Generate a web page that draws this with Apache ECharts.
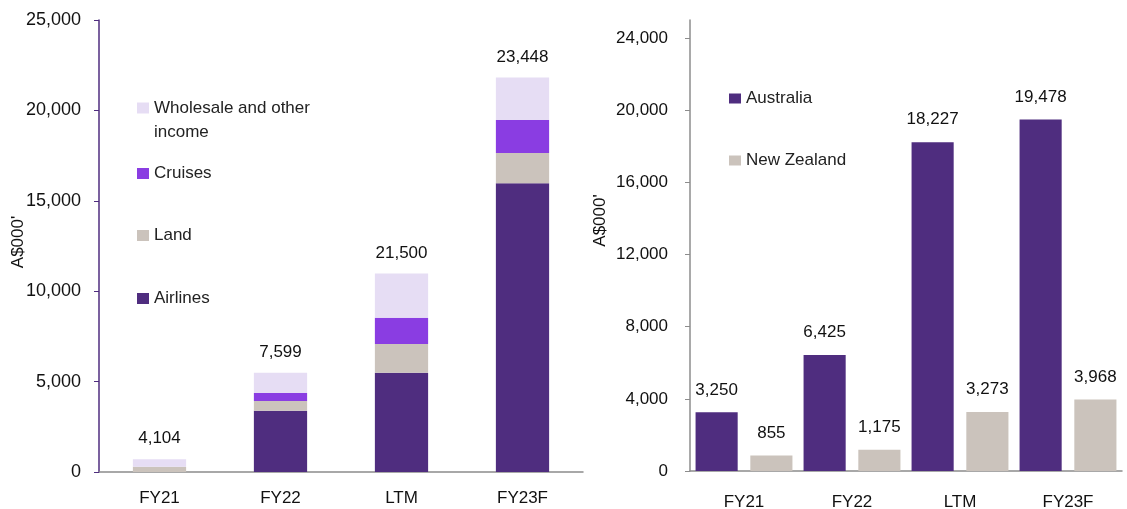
<!DOCTYPE html>
<html>
<head>
<meta charset="utf-8">
<script src="https://cdn.jsdelivr.net/npm/echarts@6/dist/echarts.min.js"></script>
<style>
  html, body { margin: 0; padding: 0; background: #fff; }
  #chart { width: 1127px; height: 509px; }
</style>
</head>
<body>
<div id="chart"></div>
<script>
// categories
var periods = ['FY21', 'FY22', 'LTM', 'FY23F'];

// left chart - revenue by segment (stacked)
var airlines = [0, 3390, 5490, 15970];
var land = [290, 535, 1585, 1680];
var cruises = [0, 440, 1455, 1825];
var wholesale = [420, 1125, 2455, 2340];
// totals printed above the stacks
var segTotals = [4104, 7599, 21500, 23448];

// right chart - by country
var australia = [3250, 6425, 18227, 19478];
var newZealand = [855, 1175, 3273, 3968];

// tick labels
var leftTicks = [0, 5000, 10000, 15000, 20000, 25000];
var rightTicks = [0, 4000, 8000, 12000, 16000, 20000, 24000];

var cAir = '#4f2d7f', cLand = '#cbc3bc', cCruise = '#8a3de2', cWhole = '#e6ddf4';
var fontFam = 'Liberation Sans, Arial, sans-serif';
var fmt = function (v) { return echarts.format.addCommas(v); };

var myChart = echarts.init(document.getElementById('chart'));

function legendItem(name, left, top, extra) {
    var l = {
        left: left, top: top, padding: 0, orient: 'vertical',
        icon: 'rect', itemWidth: 12, itemHeight: 11,
        selectedMode: false,
        textStyle: {fontSize: 17, color: '#222', fontFamily: fontFam, lineHeight: 11},
        data: [name]
    };
    if (extra) echarts.util.merge(l, extra, true);
    return l;
}

var option = {
    animation: false,
    textStyle: {fontFamily: fontFam},
    legend: [
        // blank first line keeps "Wholesale and other" level with the swatch
        legendItem('Wholesale and other income', 137, 72, {
            formatter: function () { return ' \nWholesale and other\nincome'; },
            textStyle: {lineHeight: 24}
        }),
        legendItem('Cruises', 137, 165),
        legendItem('Land', 137, 227),
        legendItem('Airlines', 137, 290),
        legendItem('Australia', 729, 90, {itemHeight: 10, textStyle: {lineHeight: 10}}),
        legendItem('New Zealand', 729, 152, {itemHeight: 10, textStyle: {lineHeight: 10}})
    ],
    grid: [
        {left: 99, right: 544, top: 20, bottom: 37, outerBoundsMode: 'none'},
        {left: 690, right: 5, top: 20, bottom: 38, outerBoundsMode: 'none'}
    ],
    xAxis: [
        {
            type: 'category', gridIndex: 0, data: periods,
            axisLine: {lineStyle: {color: '#8c8c8c', width: 1.5}},
            axisTick: {length: 5, lineStyle: {color: '#8c8c8c'}},
            axisLabel: {fontSize: 17, color: '#111', margin: 18}
        },
        {
            type: 'category', gridIndex: 1, data: periods,
            axisLine: {lineStyle: {color: '#8c8c8c', width: 1.5}},
            axisTick: {length: 5, lineStyle: {color: '#8c8c8c'}},
            axisLabel: {fontSize: 17, color: '#111', margin: 23}
        }
    ],
    yAxis: [
        {
            type: 'value', gridIndex: 0, min: 0, max: 25000, interval: 5000,
            name: "A$000'", nameLocation: 'middle', nameGap: 72, nameMoveOverlap: false,
            nameTextStyle: {fontSize: 17, color: '#111', padding: [0, 0, 0, 8]},
            axisLine: {show: true, lineStyle: {color: cAir, width: 1.5}},
            axisTick: {show: true, length: 5, lineStyle: {color: cAir}, customValues: leftTicks},
            axisLabel: {fontSize: 18, color: '#111', margin: 18, customValues: leftTicks},
            splitLine: {show: false}
        },
        {
            type: 'value', gridIndex: 1, min: 0, max: 25000, interval: 4000,
            name: "A$000'", nameLocation: 'middle', nameGap: 81, nameMoveOverlap: false,
            nameTextStyle: {fontSize: 17, color: '#111', padding: [0, 0, 0, 50]},
            axisLine: {show: true, lineStyle: {color: '#8c8c8c', width: 1.5}},
            axisTick: {show: true, length: 5, lineStyle: {color: '#8c8c8c'}, customValues: rightTicks},
            axisLabel: {fontSize: 17, color: '#111', margin: 22, customValues: rightTicks},
            splitLine: {show: false}
        }
    ],
    series: [
        {name: 'Airlines', type: 'bar', stack: 'seg', xAxisIndex: 0, yAxisIndex: 0,
            barWidth: '44%', itemStyle: {color: cAir}, data: airlines},
        {name: 'Land', type: 'bar', stack: 'seg', xAxisIndex: 0, yAxisIndex: 0,
            itemStyle: {color: cLand}, data: land},
        {name: 'Cruises', type: 'bar', stack: 'seg', xAxisIndex: 0, yAxisIndex: 0,
            itemStyle: {color: cCruise}, data: cruises},
        {name: 'Wholesale and other income', type: 'bar', stack: 'seg', xAxisIndex: 0, yAxisIndex: 0,
            itemStyle: {color: cWhole}, data: wholesale,
            label: {
                show: true, position: 'top', distance: 12, fontSize: 17, color: '#111',
                formatter: function (p) { return fmt(segTotals[p.dataIndex]); }
            }},
        {name: 'Australia', type: 'bar', xAxisIndex: 1, yAxisIndex: 1,
            barWidth: '39%', barGap: '30%', itemStyle: {color: cAir}, data: australia,
            label: {show: true, position: 'top', distance: 14, fontSize: 17, color: '#111',
                formatter: function (p) { return fmt(p.value); }}},
        {name: 'New Zealand', type: 'bar', xAxisIndex: 1, yAxisIndex: 1,
            barWidth: '39%', barGap: '30%', itemStyle: {color: cLand}, data: newZealand,
            label: {show: true, position: 'top', distance: 14, fontSize: 17, color: '#111',
                formatter: function (p) { return fmt(p.value); }}}
    ]
};

myChart.setOption(option);
window.addEventListener('resize', function () {
    myChart.resize();
});
</script>
</body>
</html>
